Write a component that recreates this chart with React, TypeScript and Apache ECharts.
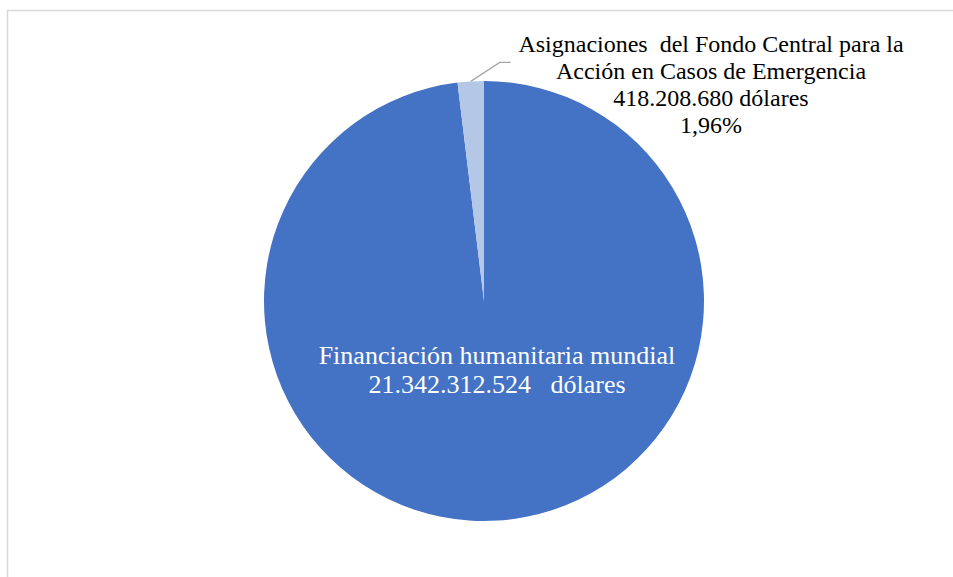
import React, { useEffect, useRef } from "react";
import * as echarts from "echarts";

const categories = [
  "Financiación humanitaria mundial",
  "Asignaciones  del Fondo Central para la\nAcción en Casos de Emergencia",
];
const values = [21342312524, 418208680];
const valueLabels = ["21.342.312.524   dólares", "418.208.680 dólares"];
const percentLabels = ["", "1,96%"];
const colors = ["#4472C4", "#B4C7E7"];

const SERIF = "Liberation Serif";

export default function App() {
  const ref = useRef<HTMLDivElement>(null);
  useEffect(() => {
    if (!ref.current) return;
    const chart = echarts.init(ref.current, null, { renderer: "svg" });
    chart.setOption({
      animation: false,
      backgroundColor: "#ffffff",
      textStyle: { fontFamily: SERIF },
      graphic: [
        {
          type: "rect",
          shape: { x: 7.5, y: 10.5, width: 960, height: 600 },
          style: { fill: "none", stroke: "#d9d9d9", lineWidth: 1.5 },
          silent: true,
        },
      ],
      series: [
        {
          type: "pie",
          center: [484, 301],
          radius: 220,
          startAngle: 90,
          clockwise: true,
          avoidLabelOverlap: false,
          itemStyle: { borderColor: "#ffffff", borderWidth: 0 },
          label: { fontFamily: SERIF },
          data: [
            {
              name: categories[0],
              value: values[0],
              itemStyle: { color: colors[0] },
              label: {
                show: true,
                position: "center",
                offset: [13, 69],
                color: "#ffffff",
                fontFamily: SERIF,
                fontSize: 26,
                lineHeight: 29,
                align: "center",
                formatter: () => `${categories[0]}\n${valueLabels[0]}`,
              },
              labelLine: { show: false },
            },
            {
              name: categories[1],
              value: values[1],
              itemStyle: { color: colors[1] },
              label: {
                show: true,
                position: "outside",
                color: "#000000",
                fontFamily: SERIF,
                fontSize: 24,
                lineHeight: 27,
                align: "center",
                formatter: () =>
                  `${categories[1]}\n${valueLabels[1]}\n${percentLabels[1]}`,
              },
              labelLine: {
                show: true,
                lineStyle: { color: "#a6a6a6", width: 1.3 },
              },
            },
          ],
          labelLayout: (params: any) => {
            if (params.dataIndex !== 1) return {};
            const p0 = params.labelLinePoints ? params.labelLinePoints[0] : [470.8, 81.4];
            const p1 = [p0[0] + 29, p0[1] - 19];
            const p2 = [p1[0] + 11, p1[1]];
            return {
              x: 711,
              y: 84,
              align: "center",
              verticalAlign: "middle",
              labelLinePoints: [p0, p1, p2],
            };
          },
        },
      ],
    });
    return () => chart.dispose();
  }, []);
  return (
    <div
      ref={ref}
      style={{ position: "fixed", left: 0, top: 0, width: 953, height: 577 }}
    />
  );
}
